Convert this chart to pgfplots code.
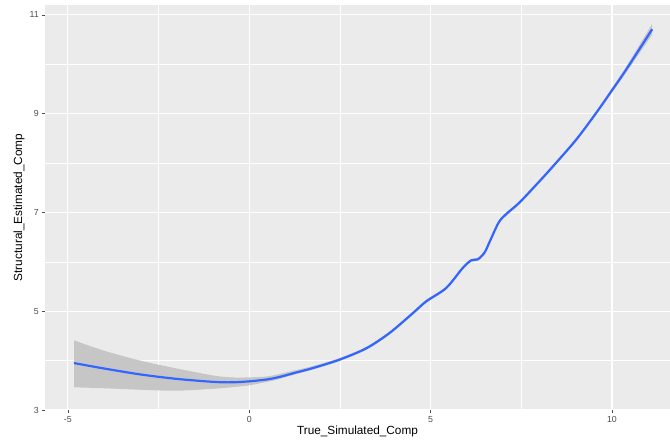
\documentclass[border=0pt]{standalone}
\usepackage{pgfplots}
\pgfplotsset{compat=1.18}
\usepgfplotslibrary{fillbetween}
\usepackage{fontspec}
\setmainfont{Liberation Sans}
\definecolor{panel}{HTML}{EBEBEB}
\definecolor{tickcol}{HTML}{4D4D4D}
\definecolor{band}{HTML}{C6C6C6}
\definecolor{fit}{HTML}{3366FF}
\begin{document}
\begin{tikzpicture}
\begin{axis}[
  name=ax,
  scale only axis,
  width=625pt, height=405pt,
  xmin=-5.63, xmax=11.6, ymin=3, ymax=11.2,
  axis background/.style={fill=panel},
  axis line style={draw=none},
  xtick={-5,0,5,10}, ytick={3,5,7,9,11},
  minor xtick={-2.5,2.5,7.5}, minor ytick={4,6,8,10},
  grid=both,
  major grid style={white, line width=1.1pt},
  minor grid style={white, line width=0.55pt},
  tick align=outside,
  major tick length=2.8pt, minor tick length=0pt,
  xtick pos=bottom, ytick pos=left,
  tick style={tickcol, line width=0.5pt},
  /pgf/number format/assume math mode=true,
  ticklabel style={font=\fontsize{8.8}{10}\selectfont, text=tickcol},
  xlabel={True\_Simulated\_Comp},
  ylabel={Structural\_Estimated\_Comp},
  label style={font=\fontsize{11.8}{13}\selectfont},
  xlabel style={yshift=3pt},
  ylabel style={yshift=-2pt},
]
\addplot[name path=up, draw=none, smooth, tension=0.5] coordinates {
(-4.83,4.41) (-4,4.20) (-3,4.00) (-2,3.84) (-1,3.70) (-0.5,3.66) (0,3.66) (0.5,3.68) (0.84,3.73) (1.3,3.81) (1.76,3.89) (2.49,4.05) (3.23,4.28) (3.87,4.59) (4.51,4.99) (4.88,5.23) (5.43,5.50) (5.88,5.90) (6.12,6.06) (6.3,6.08) (6.49,6.22) (6.63,6.44) (6.88,6.83) (7.09,7.00) (7.45,7.23) (8,7.66) (8.37,7.96) (9.01,8.50) (9.56,9.04) (9.98,9.50) (10.39,9.95) (11.11,10.82)
};
\addplot[name path=lo, draw=none, smooth, tension=0.5] coordinates {
(-4.83,3.46) (-4,3.44) (-3,3.41) (-2,3.39) (-1,3.43) (-0.5,3.46) (0,3.50) (0.5,3.57) (0.84,3.63) (1.3,3.73) (1.76,3.82) (2.49,3.99) (3.23,4.22) (3.87,4.53) (4.51,4.93) (4.88,5.17) (5.43,5.44) (5.88,5.84) (6.12,6.00) (6.3,6.02) (6.49,6.16) (6.63,6.38) (6.88,6.77) (7.09,6.94) (7.45,7.17) (8,7.60) (8.37,7.90) (9.01,8.44) (9.56,8.98) (9.98,9.41) (10.39,9.83) (11.11,10.60)
};
\addplot[band, draw=none] fill between[of=up and lo];
\addplot[fit, line width=2.2pt, smooth, tension=0.5] coordinates {
(-4.83,3.95) (-4,3.84) (-3,3.72) (-2,3.63) (-1,3.57) (-0.5,3.56) (0,3.58) (0.5,3.62) (0.84,3.67) (1.3,3.76) (1.76,3.85) (2.49,4.02) (3.23,4.25) (3.87,4.56) (4.51,4.96) (4.88,5.20) (5.43,5.47) (5.88,5.87) (6.12,6.03) (6.3,6.05) (6.49,6.19) (6.63,6.41) (6.88,6.80) (7.09,6.97) (7.45,7.20) (8,7.63) (8.37,7.93) (9.01,8.47) (9.56,9.01) (9.98,9.45) (10.39,9.89) (11.11,10.71)
};
\end{axis}
\pgfresetboundingbox
\path[use as bounding box] ([xshift=-45pt,yshift=-31pt]ax.south west) rectangle ([yshift=5pt]ax.north east);
\end{tikzpicture}
\end{document}
